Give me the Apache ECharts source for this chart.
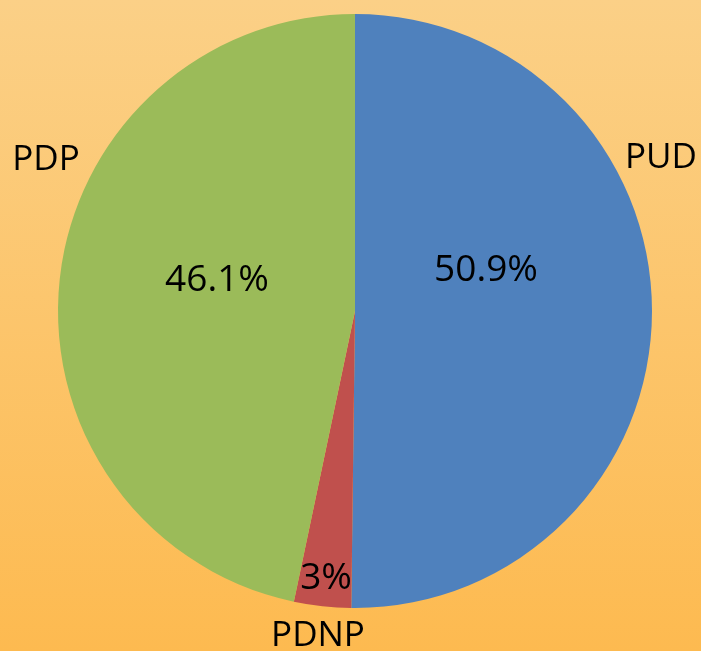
<!DOCTYPE html>
<html><head><meta charset="utf-8">
<script src="https://cdn.jsdelivr.net/npm/echarts@6/dist/echarts.min.js"></script>
<style>html,body{margin:0;padding:0;}#c{width:701px;height:651px;}</style>
</head><body><div id="c"></div>
<script>
var categories = ['PUD', 'PDNP', 'PDP'];
// slice sizes as drawn in the picture
var values = [50.2, 3.1, 46.7];
// percentage texts as printed on the picture
var pctLabels = ['50.9%', '3%', '46.1%'];
var colors = ['#4F81BD', '#C0504D', '#9BBB59'];
// label anchor positions (label layout only)
var nameLabelPos = [[661, 158], [318, 636], [46, 160]];
var pctLabelPos = [[486, 270], [326, 578], [217, 280]];

var data = categories.map(function (c, i) {
  return { name: c, value: values[i], itemStyle: { color: colors[i] } };
});

var chart = echarts.init(document.getElementById('c'));
chart.setOption({
  animation: false,
  backgroundColor: {
    type: 'linear', x: 0, y: 0, x2: 0, y2: 1,
    colorStops: [{ offset: 0, color: '#FBD087' }, { offset: 1, color: '#FDBA50' }]
  },
  series: [
    {
      type: 'pie',
      center: [355, 311],
      radius: [0, 297],
      startAngle: 90,
      clockwise: true,
      data: data,
      itemStyle: { borderWidth: 0 },
      label: {
        show: true,
        position: 'inside',
        formatter: function (p) { return pctLabels[p.dataIndex]; },
        color: '#000',
        fontFamily: 'Open Sans',
        fontSize: 37,
        overflow: 'none'
      },
      labelLine: { show: false },
      labelLayout: function (p) {
        var pos = pctLabelPos[p.dataIndex];
        return { x: pos[0], y: pos[1], align: 'center', verticalAlign: 'middle' };
      },
      emphasis: { disabled: true }
    },
    {
      type: 'pie',
      center: [355, 311],
      radius: [0, 297],
      startAngle: 90,
      clockwise: true,
      silent: true,
      avoidLabelOverlap: false,
      data: data.map(function (d) { return { name: d.name, value: d.value, itemStyle: { color: 'rgba(0,0,0,0)' } }; }),
      label: {
        show: true,
        position: 'inside',
        formatter: '{b}',
        color: '#000',
        fontFamily: 'Open Sans',
        fontSize: 35,
        overflow: 'none'
      },
      labelLine: { show: false },
      labelLayout: function (p) {
        var pos = nameLabelPos[p.dataIndex];
        return { x: pos[0], y: pos[1], align: 'center', verticalAlign: 'middle' };
      },
      emphasis: { disabled: true }
    }
  ]
});
</script></body></html>
